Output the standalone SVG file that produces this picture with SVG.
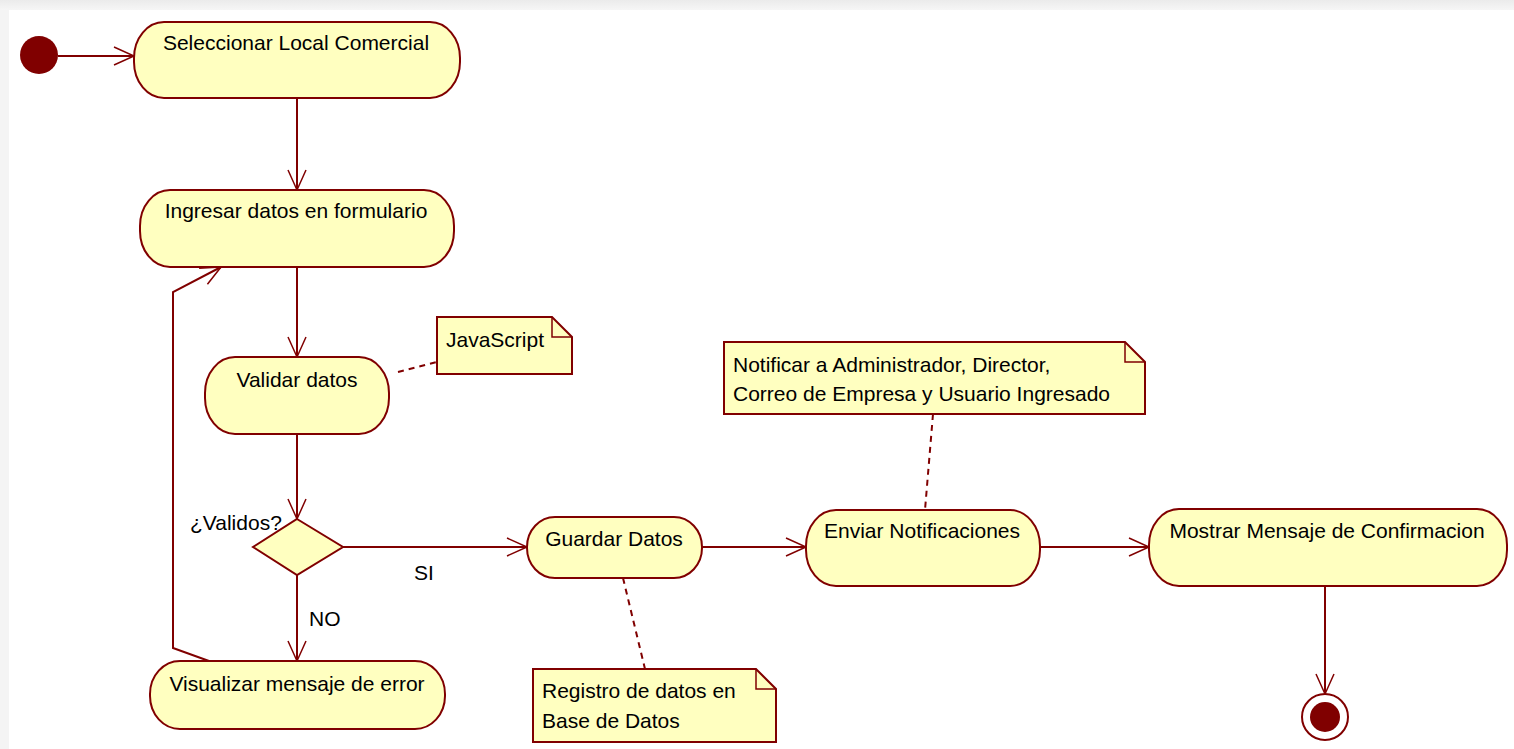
<svg xmlns="http://www.w3.org/2000/svg" width="1514" height="749" viewBox="0 0 1514 749">
<defs>
<linearGradient id="topg" x1="0" y1="0" x2="0" y2="1"><stop offset="0" stop-color="#ebebeb"/><stop offset="1" stop-color="#f6f6f6"/></linearGradient>
<marker id="arr" markerUnits="userSpaceOnUse" markerWidth="24" markerHeight="22" viewBox="0 0 24 22" refX="22" refY="11" orient="auto">
<path d="M2,2 L22,11 L2,20" fill="none" stroke="#800000" stroke-width="1.5"/>
</marker>
</defs>
<style>
.act{fill:#ffffc0;stroke:#800000;stroke-width:2}
.note{fill:#ffffc0;stroke:#800000;stroke-width:2}
.fold{fill:none;stroke:#800000;stroke-width:1.5}
.t{font-family:"Liberation Sans",Arial,sans-serif;font-size:21px;fill:#000}
.tc{text-anchor:middle}
.e{fill:none;stroke:#800000;stroke-width:2;marker-end:url(#arr)}
.d{fill:none;stroke:#800000;stroke-width:2;stroke-dasharray:6,5}
</style>
<rect x="0" y="0" width="1514" height="749" fill="#f4f4f4"/>
<rect x="0" y="0" width="1514" height="10" fill="url(#topg)"/>
<rect x="9" y="10" width="1505" height="739" fill="#ffffff"/>

<g id="connectors">
<path class="e" d="M58,56 L134,56"/>
<path class="e" d="M297,98 L297,190"/>
<path class="e" d="M297,267 L297,357"/>
<path class="e" d="M297,434 L297,519"/>
<path class="e" d="M343,547 L527,547"/>
<path class="e" d="M297,575 L297,661"/>
<path class="e" d="M209,661 L173,648 L173,292 L221,267"/>
<path class="e" d="M702,547 L806,547"/>
<path class="e" d="M1040,547 L1149,547"/>
<path class="e" d="M1325,586 L1325,694"/>
<path class="d" d="M398,372 L437,362"/>
<path class="d" d="M933,414 L925,510"/>
<path class="d" d="M623,578 L645,669"/>
<text class="t" x="190" y="530">¿Validos?</text>
<text class="t" x="414" y="580">SI</text>
<text class="t" x="309" y="626">NO</text>
</g>

<g id="start"><circle cx="39" cy="55" r="19" fill="#800000"/></g>

<g id="seleccionar">
<rect class="act" x="134" y="22" width="326" height="76" rx="30" ry="36"/>
<text class="t tc" x="296" y="50">Seleccionar Local Comercial</text>
</g>

<g id="ingresar">
<rect class="act" x="140" y="190" width="314" height="77" rx="30" ry="36"/>
<text class="t tc" x="296" y="218">Ingresar datos en formulario</text>
</g>

<g id="validar">
<rect class="act" x="205" y="357" width="184" height="77" rx="30" ry="36"/>
<text class="t tc" x="297" y="387">Validar datos</text>
</g>

<g id="note-js">
<path class="note" d="M437,317 L552,317 L572,337 L572,374 L437,374 Z"/>
<path class="fold" d="M552,317 L552,337 L572,337"/>
<text class="t" x="446" y="347">JavaScript</text>
</g>

<g id="decision">
<path class="act" d="M297,519 L343,547 L297,575 L253,547 Z"/>
</g>

<g id="visualizar">
<rect class="act" x="150" y="661" width="295" height="68" rx="30" ry="33"/>
<text class="t tc" x="297" y="691">Visualizar mensaje de error</text>
</g>

<g id="guardar">
<rect class="act" x="527" y="517" width="175" height="61" rx="28" ry="30"/>
<text class="t tc" x="614" y="546">Guardar Datos</text>
</g>

<g id="note-registro">
<path class="note" d="M533,669 L756,669 L776,689 L776,742 L533,742 Z"/>
<path class="fold" d="M756,669 L756,689 L776,689"/>
<text class="t" x="542" y="698">Registro de datos en</text>
<text class="t" x="542" y="728">Base de Datos</text>
</g>

<g id="enviar">
<rect class="act" x="806" y="510" width="234" height="76" rx="30" ry="36"/>
<text class="t tc" x="922" y="538">Enviar Notificaciones</text>
</g>

<g id="note-notificar">
<path class="note" d="M724,342 L1125,342 L1145,362 L1145,414 L724,414 Z"/>
<path class="fold" d="M1125,342 L1125,362 L1145,362"/>
<text class="t" x="733" y="372">Notificar a Administrador, Director,</text>
<text class="t" x="733" y="401">Correo de Empresa y Usuario Ingresado</text>
</g>

<g id="mostrar">
<rect class="act" x="1149" y="509" width="358" height="77" rx="30" ry="36"/>
<text class="t tc" x="1327" y="538">Mostrar Mensaje de Confirmacion</text>
</g>

<g id="end">
<circle cx="1325" cy="717" r="23" fill="#ffffff" stroke="#800000" stroke-width="2"/>
<circle cx="1325" cy="717" r="15" fill="#800000"/>
</g>
</svg>
